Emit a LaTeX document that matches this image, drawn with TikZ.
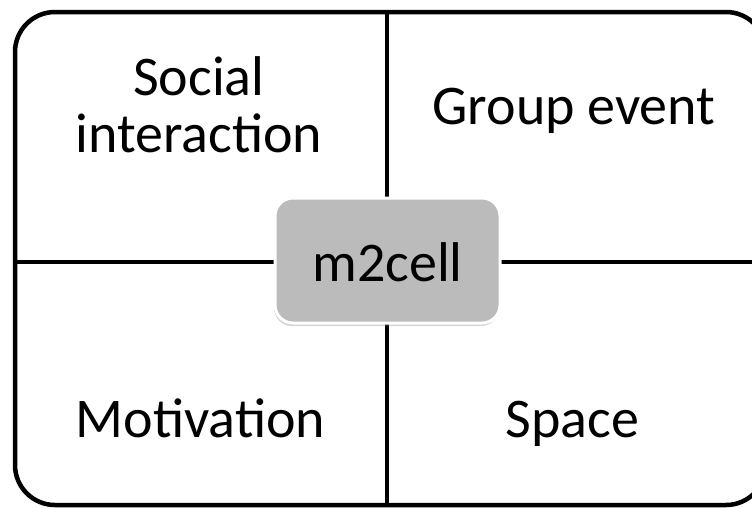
\documentclass[tikz,border=0pt]{standalone}
\usepackage{fontspec}
\setmainfont{Carlito}
\usetikzlibrary{shadows}
\definecolor{hubgray}{HTML}{BBBBBB}
\tikzset{
  lbl/.style={font=\fontsize{56}{57}\selectfont, align=center, text=black, inner sep=0pt, anchor=base},
  divider/.style={line width=4.5pt, black},
  hub/.style={draw=white, line width=3pt, fill=hubgray, rounded corners=18pt,
    minimum width=225pt, minimum height=125pt, inner sep=0pt,
    drop shadow={shadow xshift=-1pt, shadow yshift=-3pt, opacity=0.35}}
}
\begin{document}
\begin{tikzpicture}[x=1pt,y=-1pt]
  \useasboundingbox (0,0) rectangle (752,507);
  \begin{scope}
    \clip (0,0) rectangle (752,507);
    % outer frame
    \draw[line width=4.5pt, rounded corners=40pt] (15,12) rectangle (766,505);
    % dividers
    \coordinate (top) at (387,12);
    \coordinate (bot) at (387,507);
    \coordinate (lft) at (15,262);
    \coordinate (rgt) at (752,262);
    \draw[divider] (top) -- (bot);
    \draw[divider] (lft) -- (rgt);
  \end{scope}
  % central box
  \node[hub] (hub) at (387.5,260.5) {};
  \node[lbl] (hubtext) at (387.5,281) {m2cell};
  % quadrant labels (base anchor sits on the last line)
  \node[lbl] (social) at (199,152) {Social\\interaction};
  \node[lbl] (group) at (574,124) {Group event};
  \node[lbl] (motiv) at (200.5,437) {Motivation};
  \node[lbl] (space) at (572.5,437) {Space};
\end{tikzpicture}
\end{document}
